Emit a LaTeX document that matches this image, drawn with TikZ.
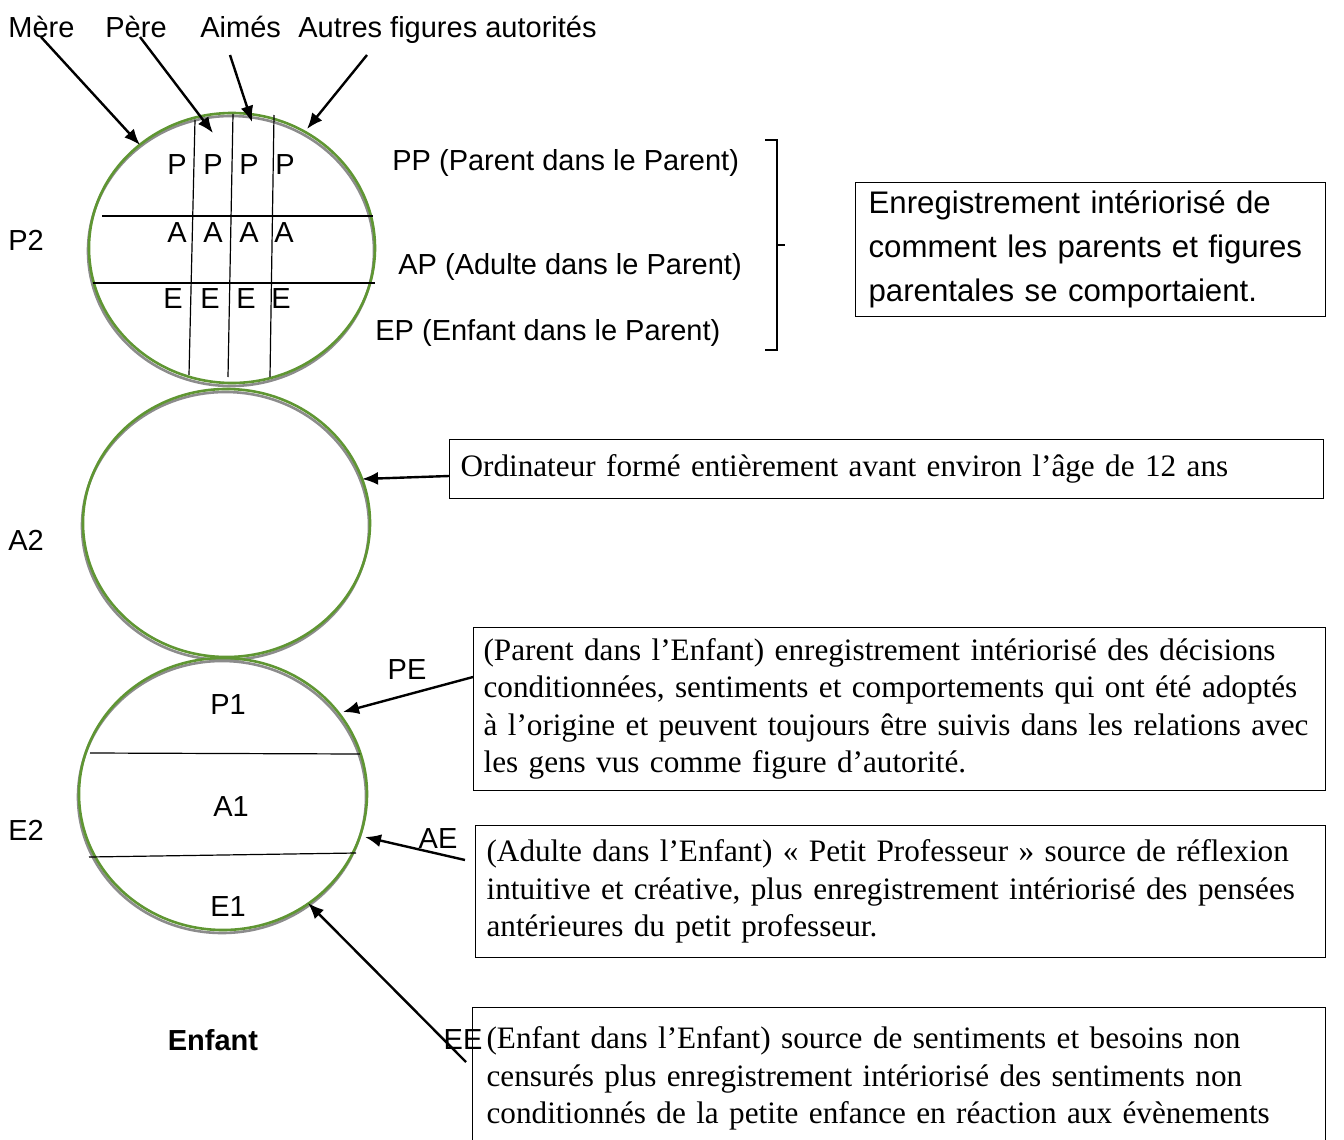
\documentclass[tikz,border=0pt]{standalone}
\usepackage{fontspec}
\setmainfont{Liberation Serif}
\setsansfont{Liberation Sans}
\usetikzlibrary{arrows.meta,shapes.geometric}
\definecolor{ringgreen}{RGB}{95,150,50}
\definecolor{ringgray}{RGB}{140,140,140}
\hyphenpenalty=10000
\exhyphenpenalty=10000
\begin{document}
\begin{tikzpicture}[x=0.5pt,y=-0.5pt,
  lbl/.style={font=\sffamily\fontsize{14.5}{17}\selectfont, inner sep=0pt},
  arr/.style={-{Latex[length=8pt,width=6.5pt]}, line width=1.2pt},
  fine/.style={line width=0.6pt},
  ring/.style={ellipse, draw=ringgreen, line width=1.3pt, inner sep=0pt},
  ringsh/.style={ellipse, draw=ringgray, line width=1.3pt, inner sep=0pt},
  sbox/.style={draw, line width=0.6pt, anchor=north west, align=left, inner ysep=0pt,
    font=\rmfamily\fontsize{15.6}{18.75}\selectfont},
  abox/.style={draw, line width=0.6pt, anchor=north west, align=left, inner ysep=0pt,
    font=\sffamily\fontsize{15.6}{22}\selectfont}]
\clip (0,0) rectangle (1344,1140);
\fill[white] (0,0) rectangle (1344,1140);

% rings (gray shadow then green)
\node[ringsh, minimum width=143pt, minimum height=135pt] (c1s) at (231,251) {};
\node[ring,   minimum width=143pt, minimum height=135pt] (c1) at (232,248) {};
\node[ringsh, minimum width=143.5pt, minimum height=134pt] (c2s) at (225.5,526) {};
\node[ring,   minimum width=143.5pt, minimum height=134pt] (c2) at (226.5,523) {};
\node[ringsh, minimum width=144pt, minimum height=136pt] (c3s) at (222,797) {};
\node[ring,   minimum width=144pt, minimum height=136pt] (c3) at (223,794) {};

% grid in top ring
\draw[fine] (102,216) -- (373,216);
\draw[fine] (93,283) -- (375,283);
\draw[fine] (195,120) -- (189,375);
\draw[fine] (233,114) -- (228,377);
\draw[fine] (274,115) -- (270,377);
\foreach \x/\n in {177/1,213/2,249/3,285/4} \node[lbl] (p\n) at (\x,165) {P};
\foreach \x/\n in {177/1,213/2,249/3,284/4} \node[lbl] (a\n) at (\x,233) {A};
\foreach \x/\n in {173/1,210/2,246/3,281/4} \node[lbl] (e\n) at (\x,299) {E};

% lines in bottom ring
\draw[fine] (90,753) -- (360,754);
\draw[fine] (89,857) -- (356,853);
\node[lbl] (P1) at (228,705) {P1};
\node[lbl] (A1) at (231,807) {A1};
\node[lbl] (E1) at (228,907) {E1};

% top labels
\node[lbl, anchor=base west] (mere) at (8,37) {Mère};
\node[lbl, anchor=base west] (pere) at (105,37) {Père};
\node[lbl, anchor=base west] (aimes) at (200,37) {Aimés};
\node[lbl, anchor=base west] (autres) at (298,37) {Autres figures autorités};

\coordinate (m0) at (41,37);   \coordinate (m1) at (140,145);
\coordinate (f0) at (140,37);  \coordinate (f1) at (213,133);
\coordinate (ai0) at (230,55); \coordinate (ai1) at (252,122);
\coordinate (au0) at (367,55); \coordinate (au1) at (307,129);
\draw[arr] (m0) -- (m1);
\draw[arr] (f0) -- (f1);
\draw[arr] (ai0) -- (ai1);
\draw[arr] (au0) -- (au1);

% left labels
\node[lbl, anchor=west] (P2) at (8,240) {P2};
\node[lbl, anchor=west] (A2) at (8,540) {A2};
\node[lbl, anchor=west] (E2) at (8,830) {E2};
\node[lbl, font=\sffamily\bfseries\fontsize{14.5}{17}\selectfont] (enf) at (213,1040) {Enfant};

% right of top ring
\node[lbl, anchor=west] (PP) at (392,163) {PP (Parent dans le Parent)};
\node[lbl, anchor=west] (AP) at (398,267) {AP (Adulte dans le Parent)};
\node[lbl, anchor=west] (EP) at (375,333) {EP (Enfant dans le Parent)};
\draw[fine] (765,140) -- (777,140) -- (777,350) -- (765,350);
\draw[fine] (777,245) -- (785,245);

% boxes
\node[abox, inner xsep=6.5pt, text width=222pt, minimum height=67pt] (b1) at (855,182)
  {Enregistrement intériorisé de\\comment les parents et figures\\parentales se comportaient.};
\node[sbox, inner xsep=5.5pt, text width=426pt, minimum height=29.5pt] (b2) at (449,439)
  {Ordinateur formé entièrement avant environ l’âge de 12 ans};
\node[sbox, inner xsep=5pt, text width=416pt, minimum height=81.5pt] (b3) at (473,627)
  {(Parent dans l’Enfant) enregistrement intériorisé des décisions\\conditionnées, sentiments et comportements qui ont été adoptés\\à l’origine et peuvent toujours être suivis dans les relations avec\\les gens vus comme figure d’autorité.};
\node[sbox, inner xsep=5.5pt, text width=414pt, minimum height=66pt] (b4) at (475,825)
  {(Adulte dans l’Enfant) « Petit Professeur » source de réflexion\\intuitive et créative, plus enregistrement intériorisé des pensées\\antérieures du petit professeur.};
\node[sbox, inner xsep=7pt, text width=412.5pt, minimum height=71pt] (b5) at (472,1007)
  {(Enfant dans l’Enfant) source de sentiments et besoins non\\censurés plus enregistrement intériorisé des sentiments non\\conditionnés de la petite enfance en réaction aux évènements};

% labels near bottom ring
\node[lbl] (PE) at (407,670) {PE};
\node[lbl] (AE) at (438,839) {AE};
\node[lbl] (EE) at (463,1040) {EE};

% arrows from boxes
\coordinate (o0) at (449,476);  \coordinate (o1) at (362,479);
\coordinate (pe0) at (473,677); \coordinate (pe1) at (343,712);
\coordinate (ae0) at (465,860); \coordinate (ae1) at (365,837);
\coordinate (ee0) at (466,1062); \coordinate (ee1) at (308,903);
\draw[arr] (o0) -- (o1);
\draw[arr] (pe0) -- (pe1);
\draw[arr] (ae0) -- (ae1);
\draw[arr] (ee0) -- (ee1);
\end{tikzpicture}
\end{document}
